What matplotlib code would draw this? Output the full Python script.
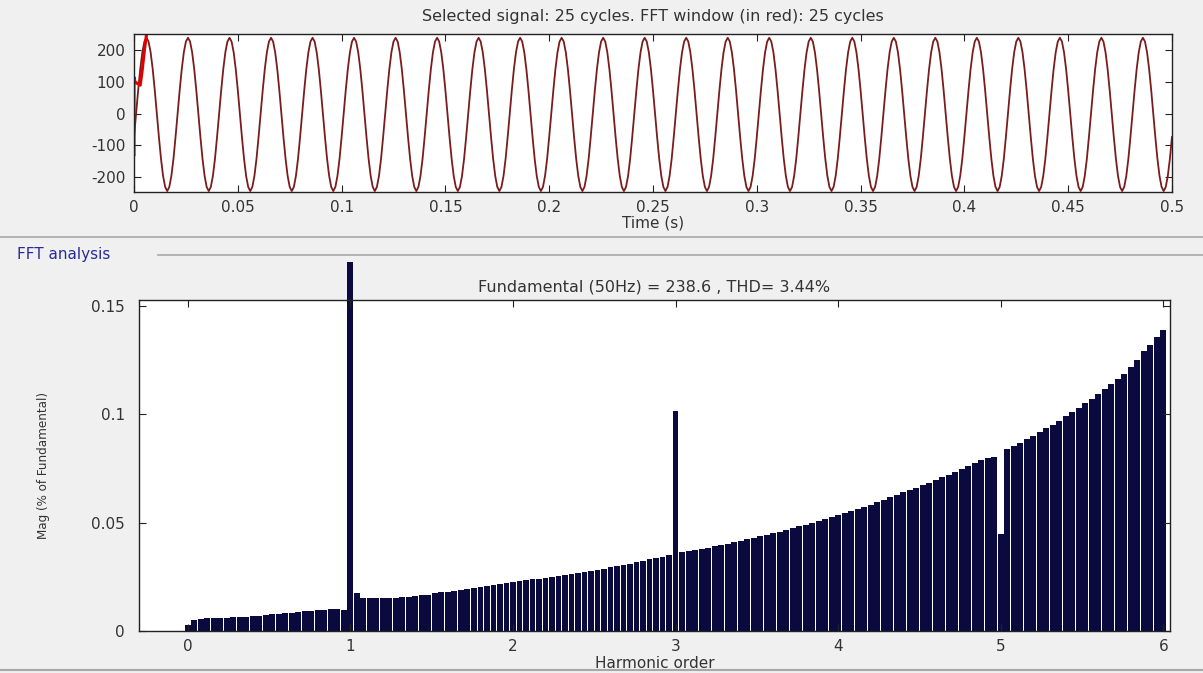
import matplotlib
matplotlib.use("Agg")
import matplotlib.pyplot as plt
import numpy as np
from matplotlib.lines import Line2D

# Сигнал: один период (20 отсчетов, 1 кГц), 25 периодов по 0.02 с
cycle_values = [-74, 0, 74, 141, 194, 228, 240, 228, 194, 141,
                74, 0, -75, -143, -197, -232, -245, -232, -197, -143]
n_cycles = 25
sample_dt = 0.001

# Начало окна FFT (красный)
red_t = [0.0, 0.0, 0.0005, 0.003, 0.004, 0.005, 0.006]
red_v = [-130, 115, 100, 90, 140, 200, 250]

# Спектр: гармоники с шагом 0.04 (2 Гц)
harm_step = 0.04
mag = [
    0.0028, 0.0051, 0.0057, 0.0058, 0.0059, 0.0060, 0.0062, 0.0063, 0.0065, 0.0066,
    0.0068, 0.0070, 0.0074, 0.0077, 0.0079, 0.0081, 0.0083, 0.0087, 0.0090, 0.0093,
    0.0097, 0.0099, 0.0100, 0.0101, 0.0098, 0.1700, 0.0174, 0.0152, 0.0151, 0.0151,
    0.0152, 0.0153, 0.0154, 0.0155, 0.0158, 0.0161, 0.0164, 0.0168, 0.0173, 0.0178,
    0.0182, 0.0186, 0.0190, 0.0194, 0.0198, 0.0204, 0.0209, 0.0214, 0.0218, 0.0222,
    0.0226, 0.0230, 0.0234, 0.0238, 0.0241, 0.0245, 0.0250, 0.0254, 0.0258, 0.0262,
    0.0267, 0.0272, 0.0277, 0.0282, 0.0288, 0.0294, 0.0299, 0.0305, 0.0311, 0.0317,
    0.0323, 0.0330, 0.0337, 0.0343, 0.0350, 0.1015, 0.0363, 0.0368, 0.0373, 0.0379,
    0.0385, 0.0391, 0.0397, 0.0403, 0.0410, 0.0416, 0.0423, 0.0430, 0.0436, 0.0443,
    0.0451, 0.0458, 0.0466, 0.0474, 0.0482, 0.0490, 0.0498, 0.0507, 0.0515, 0.0524,
    0.0533, 0.0542, 0.0551, 0.0561, 0.0570, 0.0582, 0.0594, 0.0606, 0.0617, 0.0628,
    0.0639, 0.0650, 0.0661, 0.0672, 0.0684, 0.0696, 0.0708, 0.0720, 0.0733, 0.0747,
    0.0761, 0.0775, 0.0789, 0.0797, 0.0803, 0.0447, 0.0839, 0.0853, 0.0868, 0.0884,
    0.0900, 0.0917, 0.0934, 0.0952, 0.0970, 0.0989, 0.1008, 0.1028, 0.1049, 0.1070,
    0.1092, 0.1114, 0.1138, 0.1162, 0.1185, 0.1215, 0.1250, 0.1290, 0.1320, 0.1355,
    0.1390,
]

time_ticks = [0, 0.05, 0.1, 0.15, 0.2, 0.25, 0.3, 0.35, 0.4, 0.45, 0.5]
time_labels = ["0", "0.05", "0.1", "0.15", "0.2", "0.25", "0.3", "0.35", "0.4", "0.45", "0.5"]
volt_ticks = [-200, -100, 0, 100, 200]
harm_ticks = [0, 1, 2, 3, 4, 5, 6]
mag_ticks = [0, 0.05, 0.1, 0.15]
mag_labels = ["0", "0.05", "0.1", "0.15"]

bg = "#f0f0f0"
plt.rcParams["font.family"] = ["DejaVu Sans"]
plt.rcParams["axes.unicode_minus"] = False

fig = plt.figure(figsize=(12.03, 6.73), dpi=100, facecolor=bg)

# Верхний график - сигнал
signal = np.append(np.tile(cycle_values, n_cycles), cycle_values[0])
t = np.arange(len(signal)) * sample_dt

ax1 = fig.add_axes([0.1114, 0.7147, 0.8628, 0.2348])
ax1.plot(t, signal, color="#7a1c1c", lw=1.3)
ax1.plot(red_t, red_v, color="#e00000", lw=2.2)
ax1.set_xlim(0, 0.5)
ax1.set_ylim(-248, 252)
ax1.set_xticks(time_ticks)
ax1.set_xticklabels(time_labels)
ax1.set_yticks(volt_ticks)
ax1.set_title("Selected signal: 25 cycles. FFT window (in red): 25 cycles",
              fontsize=11.5, color="#333333", pad=9)
ax1.set_xlabel("Time (s)", fontsize=11, color="#333333", labelpad=0)

# Нижний график - спектр
harm = np.arange(len(mag)) * harm_step
ax2 = fig.add_axes([0.1155, 0.0624, 0.857, 0.4918])
bars = ax2.bar(harm, mag, width=harm_step * 0.9, color="#0a0a3e",
               edgecolor="none", antialiased=False)
for b in bars:
    b.set_clip_on(False)
ax2.set_xlim(-0.3, 6.04)
ax2.set_ylim(0, 0.1526)
ax2.set_xticks(harm_ticks)
ax2.set_yticks(mag_ticks)
ax2.set_yticklabels(mag_labels)
ax2.set_title("Fundamental (50Hz) = 238.6 , THD= 3.44%",
              fontsize=11.5, color="#333333", pad=6)
ax2.set_xlabel("Harmonic order", fontsize=11, color="#333333", labelpad=1)
ax2.set_ylabel("Mag (% of Fundamental)", fontsize=9.5, color="#333333",
               family=["Liberation Sans Narrow", "DejaVu Sans"],
               fontstretch="condensed", labelpad=30)

for ax in (ax1, ax2):
    ax.set_facecolor("white")
    ax.tick_params(direction="in", top=True, right=True, length=5,
                   labelsize=11, labelcolor="#333333", color="#222222", pad=6)
    for s in ax.spines.values():
        s.set_color("#222222")
        s.set_linewidth(1.0)
ax2.tick_params(axis="y", pad=10)

# Рамки панелей
fig.add_artist(Line2D([0, 1], [0.6478, 0.6478], color="#a8a8a8", lw=1.2))
fig.add_artist(Line2D([0.131, 1], [0.6211, 0.6211], color="#a8a8a8", lw=1.2))
fig.add_artist(Line2D([0, 1], [0.0045, 0.0045], color="#a8a8a8", lw=1.5))
fig.text(0.014, 0.6225, "FFT analysis", color="#2a2a9a", fontsize=11, va="center")

fig.savefig("out.png", dpi=100, facecolor=bg)
